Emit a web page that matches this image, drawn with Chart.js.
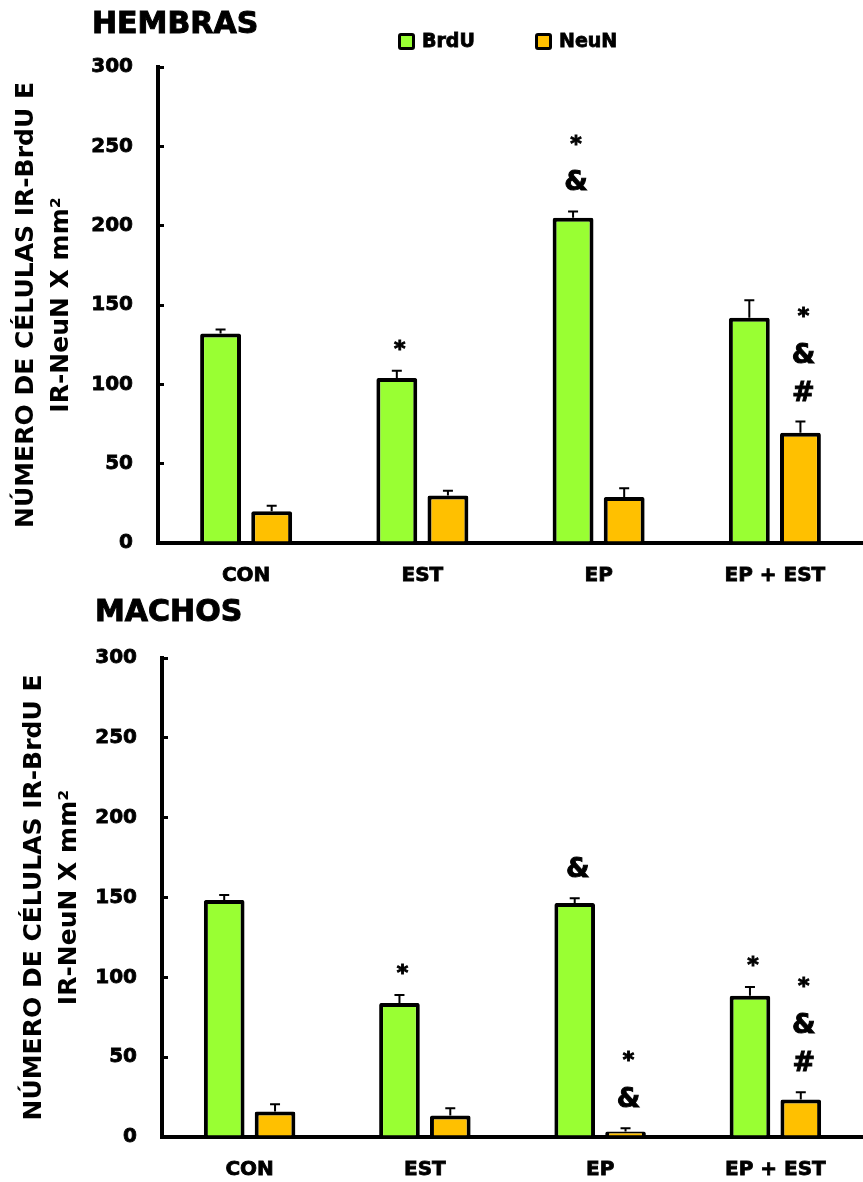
<!DOCTYPE html>
<html>
<head>
<meta charset="utf-8">
<script src="https://cdn.jsdelivr.net/npm/chart.js@4.4.1/dist/chart.umd.min.js"></script>
<style>
  body { margin: 0; background: #fff; width: 863px; height: 1182px; position: relative; overflow: hidden;
         font-family: 'DejaVu Sans', sans-serif; font-weight: bold; color: #000; }
  canvas { position: absolute; left: 0; }
  #hembras { top: 0; }
  #machos { top: 590px; }
  .title { position: absolute; font-size: 30px; line-height: 30px; -webkit-text-stroke: 1px #000; }
  .leg { position: absolute; font-size: 19px; line-height: 19px; -webkit-text-stroke: 0.8px #000; }
  .sw { position: absolute; width: 11px; height: 11px; border: 3px solid #000; border-radius: 3px; }
</style>
</head>
<body>
<canvas id="hembras" width="863" height="590"></canvas>
<canvas id="machos" width="863" height="592"></canvas>

<div class="title" style="left:92px; top:8px;">HEMBRAS</div>
<div class="title" style="left:95px; top:596px;">MACHOS</div>

<div class="sw" style="left:398px; top:33px; background:#99ff33;"></div>
<div class="leg" style="left:422px; top:31px;">BrdU</div>
<div class="sw" style="left:535px; top:33px; background:#ffc000;"></div>
<div class="leg" style="left:559px; top:31px;">NeuN</div>

<script>
const groups = ['CON', 'EST', 'EP', 'EP + EST'];
const yTicks = [0, 50, 100, 150, 200, 250, 300];
const yTitle = ['NÚMERO DE CÉLULAS IR-BrdU E', 'IR-NeuN X mm²'];

// HEMBRAS
const hembrasBrdU = [132, 104, 205, 142];
const hembrasBrdUErr = [2.5, 4.5, 4, 11];
const hembrasNeuN = [20, 30, 29, 69.5];
const hembrasNeuNErr = [3.5, 3, 5.5, 7];
const hembrasBrdUMarks = [[], ['*'], ['*', '&'], []];
const hembrasNeuNMarks = [[], [], [], ['*', '&', '#']];

// MACHOS
const machosBrdU = [148.5, 84, 146.5, 88.5];
const machosBrdUErr = [3, 5, 3, 5.5];
const machosNeuN = [16, 13.5, 3.5, 23.5];
const machosNeuNErr = [4.5, 4.5, 2, 4.5];
const machosBrdUMarks = [[], ['*'], ['&'], ['*']];
const machosNeuNMarks = [[], [], ['*', '&'], ['*', '&', '#']];

const GREEN = '#99ff33';
const ORANGE = '#ffc000';
const FONT = 'DejaVu Sans';

// error bars (SEM) and significance marks
const errorMarks = {
  id: 'errorMarks',
  afterDatasetsDraw(chart, args, opts) {
    const ctx = chart.ctx;
    const y = chart.scales.y;
    chart.data.datasets.forEach((ds, di) => {
      const meta = chart.getDatasetMeta(di);
      meta.data.forEach((bar, i) => {
        const base = y.getPixelForValue(ds.data[i]);
        const top = y.getPixelForValue(ds.data[i] + opts.err[di][i]);
        ctx.save();
        ctx.strokeStyle = '#000';
        ctx.lineWidth = 2;
        ctx.beginPath();
        ctx.moveTo(bar.x, base);
        ctx.lineTo(bar.x, top);
        ctx.moveTo(bar.x - 5, top);
        ctx.lineTo(bar.x + 5, top);
        ctx.stroke();

        ctx.fillStyle = '#000';
        ctx.lineWidth = 1;
        ctx.textAlign = 'center';
        ctx.textBaseline = 'middle';
        const marks = opts.marks[di][i].slice().reverse();
        marks.forEach((m, k) => {
          let off = 28 + 38 * k;
          let size = 27;
          if (m === '*') {
            off += k === 0 ? -3 : 5;
            size = 22;
          }
          ctx.font = 'bold ' + size + 'px "' + FONT + '"';
          const shift = m === '*' ? size * 0.2 : 0;
          ctx.fillText(m, bar.x + 3, top - off + shift);
          ctx.strokeText(m, bar.x + 3, top - off + shift);
        });
        ctx.restore();
      });
    });
  }
};

function makeChart(id, brdu, brduErr, neun, neunErr, brduMarks, neunMarks, axisLeft, areaTop, xHeight, titlePad) {
  return new Chart(document.getElementById(id), {
    type: 'bar',
    data: {
      labels: groups,
      datasets: [{
        label: 'BrdU',
        data: brdu,
        backgroundColor: GREEN,
        borderColor: '#000',
        borderWidth: 4,
        borderRadius: 2,
        categoryPercentage: 0.58,
        barPercentage: 0.8
      }, {
        label: 'NeuN',
        data: neun,
        backgroundColor: ORANGE,
        borderColor: '#000',
        borderWidth: 4,
        borderRadius: 2,
        categoryPercentage: 0.58,
        barPercentage: 0.8
      }]
    },
    plugins: [errorMarks],
    options: {
      animation: false,
      responsive: false,
      devicePixelRatio: 1,
      layout: { padding: { top: areaTop, right: 0, bottom: 0, left: 0 } },
      plugins: {
        legend: { display: false },
        tooltip: { enabled: false },
        errorMarks: { err: [brduErr, neunErr], marks: [brduMarks, neunMarks] }
      },
      scales: {
        x: {
          grid: { display: false, drawTicks: false },
          border: { display: true, color: '#000', width: 4 },
          ticks: { color: '#000', padding: 21, textStrokeColor: '#000', textStrokeWidth: 0.8,
                   font: { family: FONT, size: 20, weight: 'bold' } },
          afterFit(scale) { scale.height = xHeight; }
        },
        y: {
          min: 0,
          max: 300,
          afterBuildTicks(scale) { scale.ticks = yTicks.map(v => ({ value: v })); },
          grid: { display: true, drawOnChartArea: false, drawTicks: true, tickLength: -6, color: '#000', lineWidth: 3 },
          border: { display: true, color: '#000', width: 4 },
          ticks: { color: '#000', padding: 31, textStrokeColor: '#000', textStrokeWidth: 0.8,
                   font: { family: FONT, size: 20, weight: 'bold' } },
          title: {
            display: true,
            text: yTitle,
            color: '#000',
            padding: { top: titlePad, bottom: 0 },
            font: { family: FONT, size: 25, weight: 'bold', lineHeight: 1.4 }
          },
          afterFit(scale) { scale.width = axisLeft; }
        }
      }
    }
  });
}

makeChart('hembras', hembrasBrdU, hembrasBrdUErr, hembrasNeuN, hembrasNeuNErr,
  hembrasBrdUMarks, hembrasNeuNMarks, 158, 67, 47, 9);
makeChart('machos', machosBrdU, machosBrdUErr, machosNeuN, machosNeuNErr,
  machosBrdUMarks, machosNeuNMarks, 162, 68, 45, 17);
</script>
</body>
</html>
